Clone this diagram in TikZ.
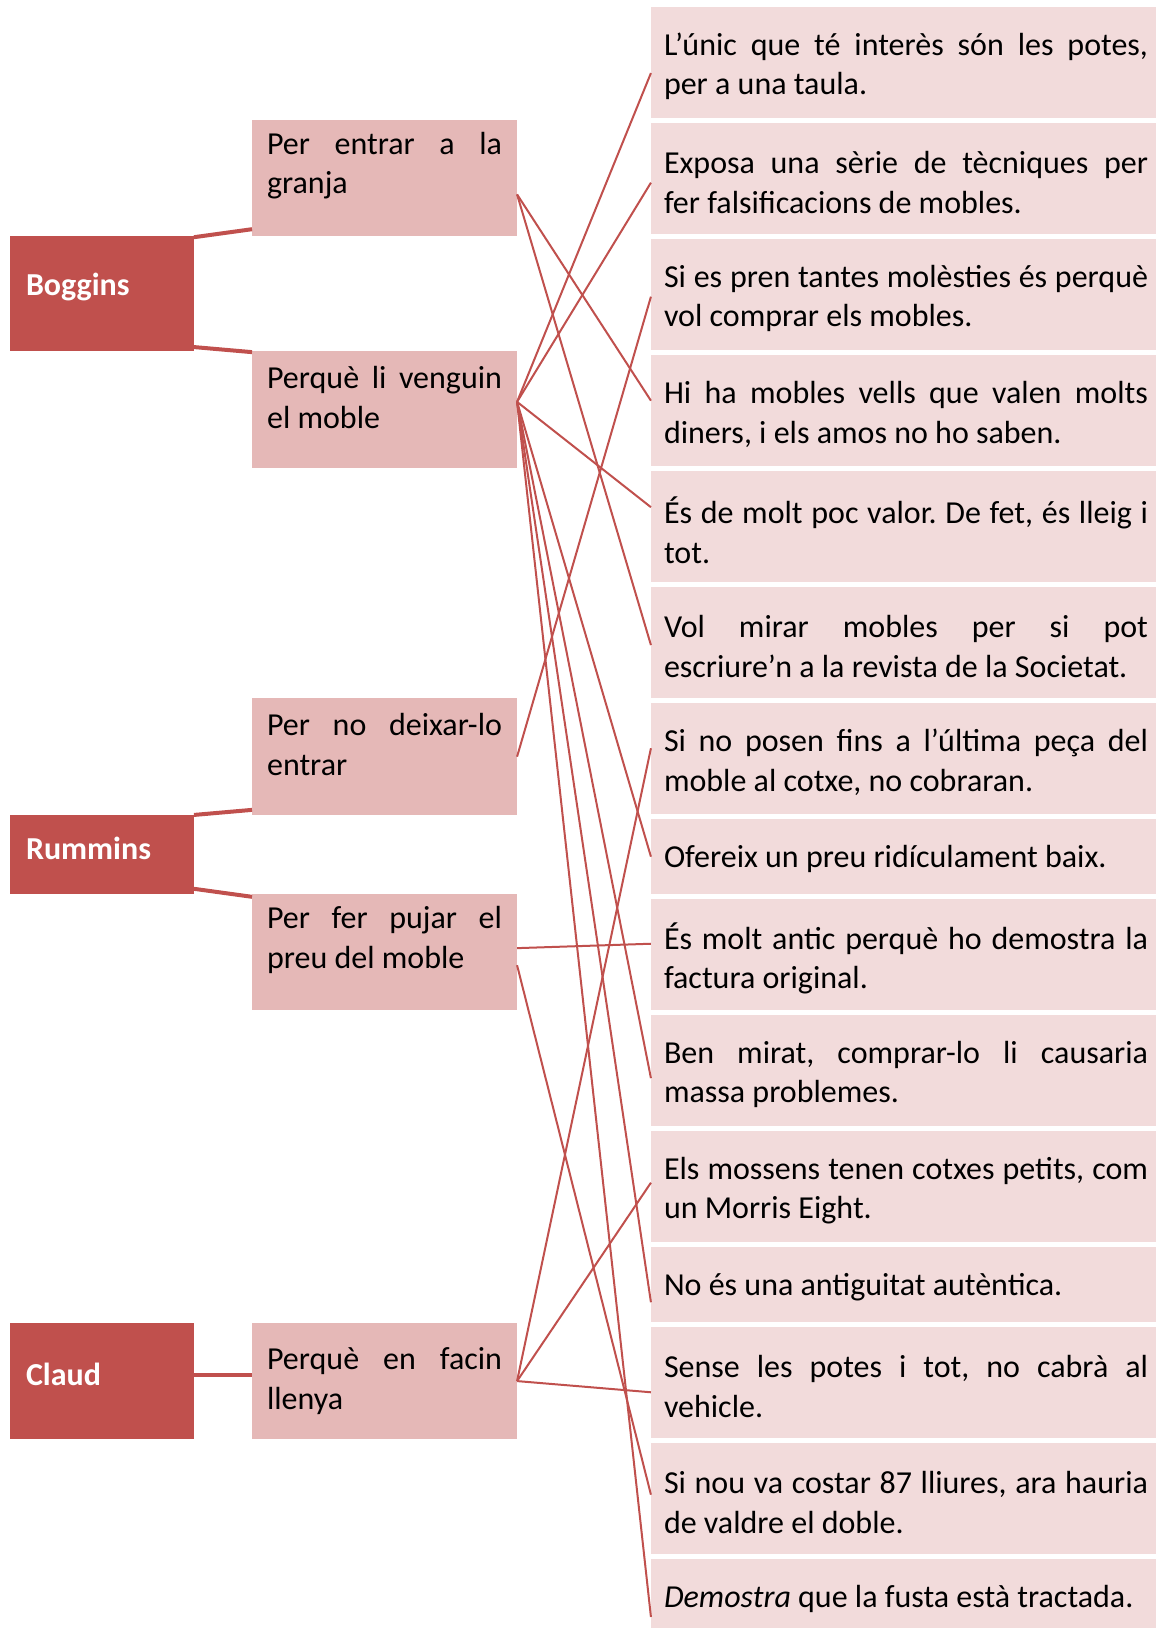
\documentclass[tikz,border=0pt]{standalone}
\usepackage{fontspec}
\setmainfont{Carlito}
\usetikzlibrary{positioning}
\definecolor{darkred}{HTML}{C0504D}
\definecolor{midpink}{HTML}{E5B8B7}
\definecolor{lightpink}{HTML}{F2DBDB}
\tolerance=10000
\hbadness=10000
\hyphenpenalty=10000
\exhyphenpenalty=10000
\frenchspacing

\begin{document}
\begin{tikzpicture}[node distance=1.7pt,thin,every node/.style={outer sep=0pt},
	raised/.style = {execute at end node={\endgraf\kern#1}},
	name node/.style = {fill=darkred, text=white, font=\fontsize{12}{14.8}\selectfont\bfseries, text width=57pt, inner xsep=6pt, inner ysep=0pt},
	reason node/.style = {fill=midpink, font=\fontsize{12}{14.8}\selectfont, text width=88.1pt, inner xsep=5.65pt, inner ysep=0pt, minimum height=43.7pt, align=justify},
	fact node/.style = {fill=lightpink, font=\fontsize{12}{14.8}\selectfont, text width=181.5pt, inner xsep=4.9pt, inner ysep=0pt, minimum height=41.8pt, align=justify, raised=-2.8pt},
	short fact/.style = {fact node, minimum height=28.3pt},
	link/.style = {darkred, line width=0.75pt},
	thick link/.style = {darkred, line width=1.5pt}]
	
	\useasboundingbox (0pt,0pt) rectangle (433.5pt,-610.5pt);
	
	\node[name node, minimum height=43.1pt, raised=4.8pt] (1) at (38.25pt,-110.1pt) {Boggins};
	\node[name node, minimum height=29.6pt, raised=4.8pt] (2) at (38.25pt,-320.4pt) {Rummins};
	\node[name node, minimum height=43.7pt, raised=4.8pt] (3) at (38.25pt,-517.9pt) {Claud};
	
	\node[reason node, raised=9pt] [above right=0pt and 21.75pt of 1] (4) {Per entrar a la\linebreak granja};
	\node[reason node, raised=9pt] [below right=0pt and 21.75pt of 1] (5) {Perquè li venguin\linebreak el moble};
	\node[reason node, raised=9pt] [above right=0pt and 21.75pt of 2] (6) {Per no deixar-lo\linebreak entrar};
	\node[reason node, raised=9pt] [below right=0pt and 21.75pt of 2] (7) {Per fer pujar el\linebreak preu del moble};
	\node[reason node] [right=21.75pt of 3] (8) {Perquè en facin\linebreak llenya};
	
	\node[fact node, anchor=north west] (9) at (244.1pt,-2.6pt) {L’únic que té interès són les potes,\linebreak per a una taula.};
	\node[fact node] [below=of 9] (10) {Exposa una sèrie de tècniques per\linebreak fer falsificacions de mobles.};
	\node[fact node] [below=of 10] (11) {Si es pren tantes molèsties és perquè\linebreak vol comprar els mobles.};
	\node[fact node] [below=of 11] (12) {Hi ha mobles vells que valen molts\linebreak diners, i els amos no ho saben.};
	\node[fact node] [below=of 12] (13) {És de molt poc valor. De fet, és lleig i\linebreak tot.};
	\node[fact node] [below=of 13] (14) {Vol mirar mobles per si pot\linebreak escriure’n a la revista de la Societat.};
	\node[fact node] [below=of 14] (15) {Si no posen fins a l’última peça del\linebreak moble al cotxe, no cobraran.};
	\node[short fact] [below=of 15] (16) {Ofereix un preu ridículament baix.};
	\node[fact node] [below=of 16] (17) {És molt antic perquè ho demostra la\linebreak factura original.};
	\node[fact node] [below=of 17] (18) {Ben mirat, comprar-lo li causaria\linebreak massa problemes.};
	\node[fact node] [below=of 18] (19) {Els mossens tenen cotxes petits, com\linebreak un Morris Eight.};
	\node[short fact] [below=of 19] (20) {No és una antiguitat autèntica.};
	\node[fact node] [below=of 20] (21) {Sense les potes i tot, no cabrà al\linebreak vehicle.};
	\node[fact node] [below=of 21] (22) {Si nou va costar 87 lliures, ara hauria\linebreak de valdre el doble.};
	\node[short fact] [below=of 22] (23) {\textit{Demostra} que la fusta està tractada.};
	
	\path[thick link]
	([yshift=-0.4pt]1.north east) edge ([yshift=2.6pt]4.south west)
	([yshift=1.5pt]1.south east) edge ([yshift=-0.4pt]5.north west)
	(2.north east) edge ([yshift=1.9pt]6.south west)
	([yshift=1.9pt]2.south east) edge ([yshift=-1.1pt]7.north west)
	([yshift=2.2pt]3.east) edge ([yshift=2.2pt]8.west);
	
	\path[link]
	([yshift=-6.2pt]4.east) edge ([yshift=3.75pt]12.west)
	edge ([yshift=-0.9pt]14.west)
	([yshift=2.8pt]5.east) edge ([yshift=-3.9pt]9.west)
	edge ([yshift=-1.5pt]10.west)
	edge ([yshift=7.3pt]13.west)
	edge (16.west)
	edge ([yshift=-2.8pt]18.west)
	edge ([yshift=-6.6pt]20.west)
	edge ([yshift=-7.6pt]23.west)
	(6.east) edge ([yshift=-0.75pt]11.west)
	([yshift=1.5pt]7.east) edge ([yshift=4.1pt]17.west)
	([yshift=-4.9pt]7.east) edge ([yshift=1.5pt]22.west)
	(8.east) edge ([yshift=3.9pt]15.west)
	edge ([yshift=1.5pt]19.west)
	edge ([yshift=-3.6pt]21.west);
\end{tikzpicture}
\end{document}
